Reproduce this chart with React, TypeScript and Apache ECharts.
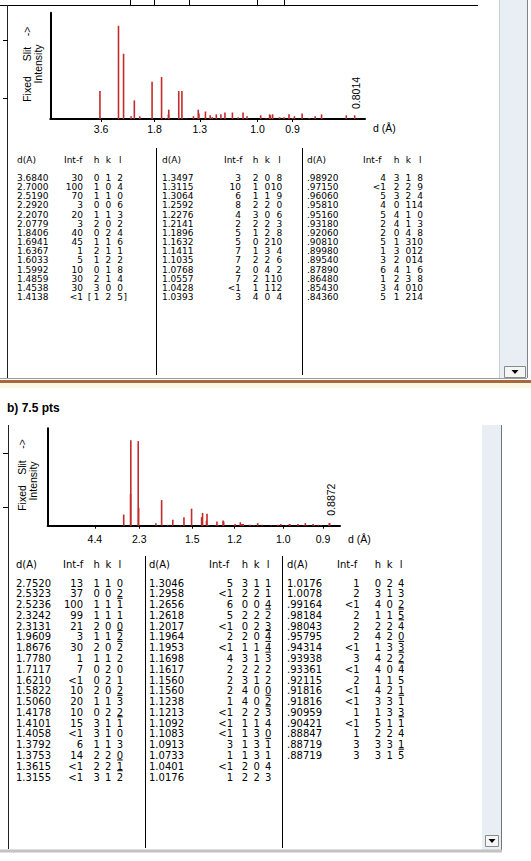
import React, { useEffect, useRef } from 'react';
import * as echarts from 'echarts';

const LAMBDA = 1.5406; // Cu K-alpha, converts d to 2-theta for the stick axis
const LT1 = 0.5; // stands for "<1"

// ---------- a) ----------
const dA = [3.684, 2.7, 2.519, 2.292, 2.207, 2.0779, 1.8406, 1.6941, 1.6367, 1.6033, 1.5992, 1.4859, 1.4538, 1.4138,
  1.3497, 1.3115, 1.3064, 1.2592, 1.2276, 1.2141, 1.1896, 1.1632, 1.1411, 1.1035, 1.0768, 1.0557, 1.0428, 1.0393,
  0.9892, 0.9715, 0.9606, 0.9581, 0.9516, 0.9318, 0.9206, 0.9081, 0.8998, 0.8954, 0.8789, 0.8648, 0.8543, 0.8436];
const intA = [30, 100, 70, 3, 20, 3, 40, 45, 1, 5, 10, 30, 30, LT1,
  3, 10, 6, 8, 4, 2, 5, 5, 7, 7, 2, 7, LT1, 3,
  4, LT1, 5, 4, 5, 2, 2, 5, 1, 3, 6, 1, 3, 5];
const hA = [0, 1, 1, 0, 1, 2, 0, 1, 2, 1, 0, 2, 3, 1,
  2, 1, 1, 2, 3, 2, 1, 0, 1, 2, 0, 2, 1, 4,
  3, 2, 3, 0, 4, 4, 0, 1, 3, 2, 4, 2, 4, 1];
const kA = [1, 0, 1, 0, 1, 0, 2, 1, 1, 2, 1, 1, 0, 2,
  0, 0, 1, 2, 0, 2, 2, 2, 3, 2, 4, 1, 1, 0,
  1, 2, 2, 1, 1, 1, 4, 3, 0, 0, 1, 3, 0, 2];
const lA = [2, 4, 0, 6, 3, 2, 4, 6, 1, 2, 8, 4, 0, 5,
  8, 10, 9, 0, 6, 3, 8, 10, 4, 6, 2, 10, 12, 4,
  8, 9, 4, 14, 0, 3, 8, 10, 12, 14, 6, 8, 10, 14];
const bracketRowsA = [13];
// peaks drawn in the plot but scrolled out of the table
const dExtraA = [0.8102, 0.8014];
const intExtraA = [4, 4];
const tickLabelsA = ['3.6', '1.8', '1.3', '1.0', '0.9'];

// ---------- b) ----------
const dB = [2.752, 2.5323, 2.5236, 2.3242, 2.3131, 1.9609, 1.8676, 1.778, 1.7117, 1.621, 1.5822, 1.506, 1.4178, 1.4101, 1.4058, 1.3792, 1.3753, 1.3615, 1.3155,
  1.3046, 1.2958, 1.2656, 1.2618, 1.2017, 1.1964, 1.1953, 1.1698, 1.1617, 1.156, 1.156, 1.1238, 1.1213, 1.1092, 1.1083, 1.0913, 1.0733, 1.0401, 1.0176,
  1.0176, 1.0078, 0.99164, 0.98184, 0.98043, 0.95795, 0.94314, 0.93938, 0.93361, 0.92115, 0.91816, 0.91816, 0.90959, 0.90421, 0.88847, 0.88719, 0.88719];
const intB = [13, 37, 100, 99, 21, 3, 30, 1, 7, LT1, 10, 20, 10, 15, LT1, 6, 14, LT1, LT1,
  5, LT1, 6, 5, LT1, 2, LT1, 4, 2, 2, 2, 1, LT1, LT1, LT1, 3, 1, LT1, 1,
  1, 2, LT1, 2, 2, 2, LT1, 3, LT1, 2, LT1, LT1, 1, LT1, 1, 3, 3];
const hB = [1, 0, 1, 1, 2, 1, 2, 1, 0, 0, 2, 1, 0, 3, 3, 1, 2, 2, 3,
  3, 2, 0, 2, 0, 2, 1, 3, 2, 3, 4, 4, 2, 1, 1, 1, 1, 2, 2,
  0, 3, 4, 1, 2, 4, 1, 4, 4, 1, 4, 3, 1, 5, 2, 3, 3];
const kB = [1, 0, 1, 1, 0, 1, 0, 1, 2, 2, 0, 1, 2, 1, 1, 1, 2, 2, 1,
  1, 2, 0, 2, 2, 0, 1, 1, 2, 1, 0, 0, 2, 1, 3, 3, 3, 0, 2,
  2, 1, 0, 1, 2, 2, 3, 2, 0, 1, 2, 3, 3, 1, 2, 3, 1];
const lB = [0, 2, -1, 1, 0, -2, -2, 2, 0, 1, 2, -3, 2, -1, 0, 3, 0, -1, -2,
  1, 1, 4, -2, 3, -4, -4, -3, 2, 2, 0, -2, -3, 4, 0, -1, 1, 4, 3,
  4, 3, 2, -5, -4, 0, -3, -2, -4, 5, 1, -1, 3, -1, 4, 1, -5];
const tickLabelsB = ['4.4', '2.3', '1.5', '1.2', '1.0', '0.9'];

const FAMILY = '"Liberation Sans", Arial, sans-serif';
const TFAMILY = '"DejaVu Sans", Verdana, sans-serif';
const FONT = '10.5px ' + FAMILY;
const STICK = '#c42b2b';

function twoTheta(d: number) {
  return (2 * Math.asin(LAMBDA / (2 * d)) * 180) / Math.PI;
}
function fmtD(d: number) {
  return d >= 1 ? d.toFixed(4) : d.toFixed(5).slice(1);
}
function fmtI(v: number) {
  return v < 1 ? '<1' : String(v);
}

function txt(text: string, x: number, y: number, align = 'left', lh = 11, font = FONT): any {
  return {
    type: 'text', silent: true,
    style: { text, x, y, fill: '#000', font, lineHeight: lh, align, verticalAlign: 'middle', textAlign: align, textVerticalAlign: 'middle' },
  };
}
function rtxt(text: string, x: number, y: number): any {
  return {
    type: 'text', silent: true, x, y, rotation: Math.PI / 2,
    style: { text, x: 0, y: 0, fill: '#000', font: FONT, lineHeight: 10, align: 'center', verticalAlign: 'middle', textAlign: 'center', textVerticalAlign: 'middle' },
  };
}
function ln(x1: number, y1: number, x2: number, y2: number, stroke = '#000', w = 1): any {
  return { type: 'line', silent: true, shape: { x1, y1, x2, y2 }, style: { stroke, lineWidth: w } };
}
function rc(x: number, y: number, w: number, h: number, fill: string, stroke?: string): any {
  return { type: 'rect', silent: true, shape: { x, y, width: w, height: h }, style: { fill, stroke: stroke || null, lineWidth: 1 } };
}
function tri(cx: number, cy: number): any {
  return { type: 'polygon', silent: true, shape: { points: [[cx - 3.5, cy - 2], [cx + 3.5, cy - 2], [cx, cy + 2]] }, style: { fill: '#000' } };
}

interface ColPos { d: number; intHdr: number; intR: number; h: number; k: number; lR: number }
interface TableLayout { headerY: number; rowY0: number; pitch: number; rows: number; fontSize: number; cols: ColPos[] }

const layoutA: TableLayout = {
  headerY: 160, rowY0: 178, pitch: 9.15, rows: 14, fontSize: 9,
  cols: [
    { d: 17, intHdr: 64, intR: 83, h: 96.7, k: 108.3, lR: 123 },
    { d: 162, intHdr: 224, intR: 241, h: 255.7, k: 267.3, lR: 282.3 },
    { d: 307, intHdr: 363, intR: 386, h: 396.7, k: 408.3, lR: 423 },
  ],
};
const layoutB: TableLayout = {
  headerY: 564, rowY0: 583, pitch: 10.78, rows: 19, fontSize: 10,
  cols: [
    { d: 16, intHdr: 63, intR: 83, h: 96.7, k: 108.3, lR: 123 },
    { d: 149, intHdr: 209, intR: 233, h: 245, k: 256.7, lR: 271.3 },
    { d: 287, intHdr: 337, intR: 359.5, h: 378, k: 389.7, lR: 404.4 },
  ],
};

function buildTable(d: number[], it: number[], h: number[], k: number[], l: number[], L: TableLayout, brackets: number[] = []) {
  const els: any[] = [];
  const lh = Math.floor(L.pitch);
  const font = L.fontSize + 'px ' + TFAMILY;
  const digitW = L.fontSize * 0.636;
  const t = (s: string, x: number, y: number, align = 'left') => txt(s, x, y, align, lh, font);
  L.cols.forEach((c) => {
    els.push(t('d(A)', c.d, L.headerY));
    els.push(t('Int-f', c.intHdr, L.headerY));
    els.push(t('h', c.h, L.headerY, 'center'));
    els.push(t('k', c.k, L.headerY, 'center'));
    els.push(t('l', c.lR - digitW / 2, L.headerY, 'center'));
  });
  d.forEach((dv, i) => {
    const c = L.cols[Math.floor(i / L.rows)];
    const y = L.rowY0 + (i % L.rows) * L.pitch;
    els.push(t(fmtD(dv), c.d, y));
    els.push(t(fmtI(it[i]), c.intR, y, 'right'));
    els.push(t(String(h[i]), c.h, y, 'center'));
    els.push(t(String(k[i]), c.k, y, 'center'));
    els.push(t(String(Math.abs(l[i])), c.lR, y, 'right'));
    if (l[i] < 0) {
      const w = String(Math.abs(l[i])).length * digitW;
      els.push(ln(c.lR - w + 0.5, y - 6.3, c.lR - 0.3, y - 6.3, '#000', 1));
    }
    if (brackets.includes(i)) {
      els.push(t('[', c.h - 9, y));
      els.push(t(']', c.lR + 0.5, y));
    }
  });
  return els;
}

function stickSeries(idx: number, ds: number[], ints: number[]): any {
  const data = ds.map((d, i) => [twoTheta(d), ints[i], d]);
  const last = data.length - 1;
  return {
    type: 'custom', xAxisIndex: idx, yAxisIndex: idx, silent: true, clip: false,
    data,
    renderItem: (params: any, api: any) => {
      const x = api.value(0);
      const v = api.value(1);
      const p0 = api.coord([x, 0]);
      const p1 = api.coord([x, v]);
      const line = { type: 'line', shape: { x1: p0[0], y1: p0[1], x2: p1[0], y2: p1[1] }, style: { stroke: STICK, lineWidth: 1.6 } };
      if (params.dataIndex !== last) return line;
      const label = {
        type: 'text', x: p0[0] + 1, y: p0[1] - 10, rotation: Math.PI / 2,
        style: { text: Number(api.value(2)).toFixed(4), x: 0, y: 0, fill: '#000', font: FONT, lineHeight: 10, align: 'left', verticalAlign: 'middle', textAlign: 'left', textVerticalAlign: 'middle' },
      };
      return { type: 'group', children: [line, label] };
    },
  };
}

function makeX(idx: number, max: number, labels: string[], margin: number, namePad: number): any {
  const vals = labels.map((s) => twoTheta(parseFloat(s)));
  return {
    type: 'value', gridIndex: idx, min: 0, max,
    axisLine: { show: true, onZero: false, lineStyle: { color: '#000', width: 2 } },
    axisTick: { show: true, customValues: vals, length: 3, lineStyle: { color: '#000', width: 1 } },
    axisLabel: {
      show: true, customValues: vals, margin, color: '#000', fontSize: 10.5, fontFamily: FAMILY,
      formatter: (v: number) => {
        let best = labels[0];
        let bd = Infinity;
        labels.forEach((s) => {
          const dd = Math.abs(twoTheta(parseFloat(s)) - v);
          if (dd < bd) { bd = dd; best = s; }
        });
        return best;
      },
    },
    splitLine: { show: false },
    name: 'd (Å)', nameLocation: 'end', nameGap: 8,
    nameTextStyle: { color: '#000', fontSize: 10.5, fontFamily: FAMILY, align: 'left', verticalAlign: 'top', padding: [namePad, 0, 0, 0] },
  };
}
function makeY(idx: number): any {
  return {
    type: 'value', gridIndex: idx, min: 0, max: 114,
    axisLine: { show: true, lineStyle: { color: '#000', width: 2 } },
    axisTick: { show: false }, axisLabel: { show: false }, splitLine: { show: false },
  };
}

function buildOption(): any {
  const frame: any[] = [
    // ---- panel a window ----
    rc(499, 0, 28, 378, '#e8eef3'),
    ln(499.5, 0, 499.5, 378, '#c5ced5'),
    ln(527.5, 0, 527.5, 378, '#7c848b'),
    rc(504.5, 366.5, 21, 11, '#f5f5f5', '#8a8a8a'),
    tri(515, 372),
    ln(0, 5.5, 478, 5.5),
    ...[130, 154, 189, 257, 284].map((x) => ln(x + 0.5, 0, x + 0.5, 5)),
    ln(7.5, 5, 7.5, 378, '#222'),
    ln(3, 40.5, 8, 40.5), ln(3, 98.5, 8, 98.5),
    rtxt('Fixed', 27, 89), rtxt('Slit', 27, 54), rtxt('->', 27, 31.5), rtxt('Intensity', 37.5, 64),
    ln(156.5, 148, 156.5, 375), ln(302.5, 148, 302.5, 375),
    ln(0, 378.5, 527, 378.5, '#9c9c9c'),
    rc(0, 380, 531, 3, '#a5693f'),
    rc(0, 383, 531, 5, '#fbf6e4'),
    // ---- heading ----
    txt('b) 7.5 pts', 7, 408, 'left', 14, 'bold 12px ' + FAMILY),
    // ---- panel b window ----
    rc(482, 425, 19, 426, '#e8eef3'),
    ln(501.5, 425, 501.5, 852, '#6f777e'),
    rc(485.5, 835.5, 13, 11, '#f5f5f5', '#8a8a8a'),
    tri(492, 841),
    ln(8.5, 425, 8.5, 849, '#222'),
    ln(3, 453.5, 8, 453.5), ln(3, 507.5, 8, 507.5),
    rtxt('Fixed', 21.7, 498), rtxt('Slit', 21.7, 467.5), rtxt('->', 21.7, 444), rtxt('Intensity', 33.3, 481),
    ln(145.5, 556, 145.5, 848), ln(282.5, 556, 282.5, 848),
    rc(0, 849.5, 502, 3, '#c2c2c2'),
  ];
  const tables = [
    ...buildTable(dA, intA, hA, kA, lA, layoutA, bracketRowsA),
    ...buildTable(dB, intB, hB, kB, lB, layoutB),
  ];
  return {
    animation: false,
    backgroundColor: '#fff',
    grid: [
      { left: 50.3, top: 12.7, width: 314.7, height: 106.3 },
      { left: 47.7, top: 428.3, width: 292.3, height: 97.4 },
    ],
    xAxis: [makeX(0, 153, tickLabelsA, 4, 3), makeX(1, 125, tickLabelsB, 8, 8)],
    yAxis: [makeY(0), makeY(1)],
    series: [
      stickSeries(0, [...dA, ...dExtraA], [...intA, ...intExtraA]),
      stickSeries(1, dB, intB),
    ],
    graphic: { elements: [...frame, ...tables] },
  };
}

export default function App() {
  const ref = useRef<HTMLDivElement>(null);
  useEffect(() => {
    const chart = echarts.init(ref.current!, null, { renderer: 'svg', width: 531, height: 861 });
    chart.setOption(buildOption());
    return () => chart.dispose();
  }, []);
  return <div ref={ref} style={{ position: 'absolute', left: 0, top: 0, width: 531, height: 861, background: '#fff' }} />;
}
